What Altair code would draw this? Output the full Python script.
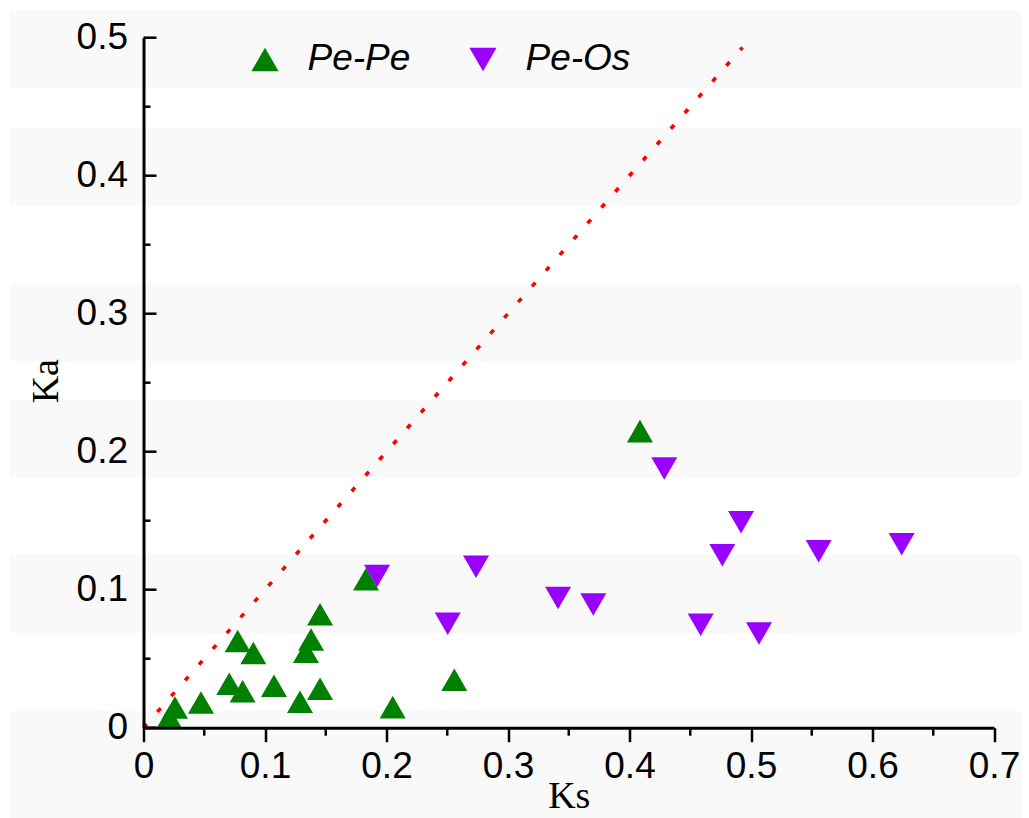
import altair as alt
import pandas as pd

# ---- data ----
pepe_ks = [0.0259, 0.0212, 0.0473, 0.0775, 0.0904, 0.0706, 0.0816, 0.1074, 0.1288,
           0.1453, 0.1453, 0.1379, 0.1337, 0.1831, 0.2051, 0.2558, 0.4086]
pepe_ka = [0.0146, 0.0074, 0.0183, 0.0628, 0.0541, 0.0319, 0.0264, 0.0304, 0.0188,
           0.0283, 0.0822, 0.0639, 0.0551, 0.1076, 0.0149, 0.0348, 0.2149]
peos_ks = [0.1922, 0.2737, 0.2504, 0.3412, 0.3702, 0.4286, 0.4918, 0.4764, 0.5557,
           0.6240, 0.4586, 0.5066]
peos_ka = [0.1099, 0.1167, 0.0754, 0.0940, 0.0893, 0.1878, 0.1489, 0.1249, 0.1278,
           0.1330, 0.0746, 0.0683]
series_names = ["Pe-Pe", "Pe-Os"]

# reference line Ka = Ks
ref_ks = [0.0, 0.493]
ref_ka = [0.0, 0.493]

# background stripes (in Ka units)
band_lo = [0.4635, 0.3788, 0.2657, 0.1817, 0.0686, -0.0654]
band_hi = [0.5194, 0.4346, 0.3216, 0.2375, 0.1252, 0.0121]
band_ks_lo = -0.11
band_ks_hi = 0.73

x_major = [0, 0.1, 0.2, 0.3, 0.4, 0.5, 0.6, 0.7]
x_minor = [0.05, 0.15, 0.25, 0.35, 0.45, 0.55, 0.65]
y_major = [0, 0.1, 0.2, 0.3, 0.4, 0.5]
y_minor = [0.05, 0.15, 0.25, 0.35, 0.45]

# ---- tables ----
pts = pd.DataFrame({
    "ks": pepe_ks + peos_ks,
    "ka": pepe_ka + peos_ka,
    "series": [series_names[0]] * len(pepe_ks) + [series_names[1]] * len(peos_ks),
})
ref = pd.DataFrame({"ks": ref_ks, "ka": ref_ka})
bands = pd.DataFrame({"ka": band_lo, "ka2": band_hi,
                      "ks": [band_ks_lo] * len(band_lo), "ks2": [band_ks_hi] * len(band_lo)})
ymaj = pd.DataFrame({"ka": y_major})
ymin = pd.DataFrame({"ka": y_minor})
xmin = pd.DataFrame({"ks": x_minor})

xscale = alt.Scale(domain=[0, 0.7], nice=False, zero=False)
yscale = alt.Scale(domain=[0, 0.5], nice=False, zero=False)

xaxis = alt.Axis(
    title="Ks", titleFont="Liberation Serif", titleFontSize=38, titleFontWeight="normal",
    titleColor="black", titleBaseline="alphabetic", titleY=80,
    labelFont="Liberation Sans", labelFontSize=37, labelColor="black", labelPadding=7,
    labelFlush=False, labelOverlap=False, format="~g",
    values=x_major, tickSize=14, tickWidth=2.5, tickColor="black",
    domainColor="black", domainWidth=3, grid=False, zindex=1,
)
yaxis = alt.Axis(
    title="Ka", titleFont="Liberation Serif", titleFontSize=38, titleFontWeight="normal",
    titleColor="black", titleBaseline="alphabetic", titleX=-86.5, titleY=343,
    labelFont="Liberation Sans", labelFontSize=37, labelColor="black", labelPadding=16,
    labelFlush=False, labelOverlap=False, format="~g",
    values=y_major, ticks=False, tickSize=0,
    domainColor="black", domainWidth=3, grid=False, zindex=1,
)

X = lambda f: alt.X(f"{f}:Q", scale=xscale, axis=xaxis)
Y = lambda f: alt.Y(f"{f}:Q", scale=yscale, axis=yaxis)

band_layer = alt.Chart(bands).mark_rect(color="#f9f9f9", clip=False).encode(
    x=X("ks"), x2="ks2", y=Y("ka"), y2="ka2"
)

ref_layer = alt.Chart(ref).mark_line(
    color="#ff0000", strokeWidth=3.6, strokeDash=[5, 16], clip=False
).encode(x=X("ks"), y=Y("ka"))

pt_layer = alt.Chart(pts).mark_point(filled=True, size=676, opacity=1, clip=False).encode(
    x=X("ks"), y=Y("ka"),
    color=alt.Color("series:N", scale=alt.Scale(domain=series_names, range=["#008000", "#9900ff"]),
                    legend=alt.Legend(
                        orient="none", legendX=103, legendY=3, direction="horizontal",
                        columns=2, title=None, padding=0,
                        labelFont="Liberation Sans", labelFontSize=37, labelFontStyle="italic",
                        labelColor="black", symbolSize=740, symbolStrokeWidth=0,
                        labelOffset=24, columnPadding=54,
                    )),
    shape=alt.Shape("series:N", scale=alt.Scale(domain=series_names,
                                                range=["triangle-up", "triangle-down"]),
                    legend=None),
)

ytick_major = alt.Chart(ymaj).mark_rule(color="black", strokeWidth=2.5).encode(
    y=Y("ka"), x=alt.value(0), x2=alt.value(13)
)
ytick_minor = alt.Chart(ymin).mark_rule(color="black", strokeWidth=2.5).encode(
    y=Y("ka"), x=alt.value(0), x2=alt.value(7)
)
xtick_minor = alt.Chart(xmin).mark_rule(color="black", strokeWidth=2.5).encode(
    x=X("ks"), y=alt.value(690), y2=alt.value(698)
)

chart = alt.layer(
    band_layer, ref_layer, ytick_major, ytick_minor, xtick_minor, pt_layer
).properties(
    width=850.5, height=690,
    autosize=alt.AutoSizeParams(type="none"),
    padding={"left": 135.5, "top": 29.7, "right": 27, "bottom": 90},
    background="white",
).configure_view(stroke=None)

chart.save("out.html", embed_options={"renderer": "svg", "actions": False})
